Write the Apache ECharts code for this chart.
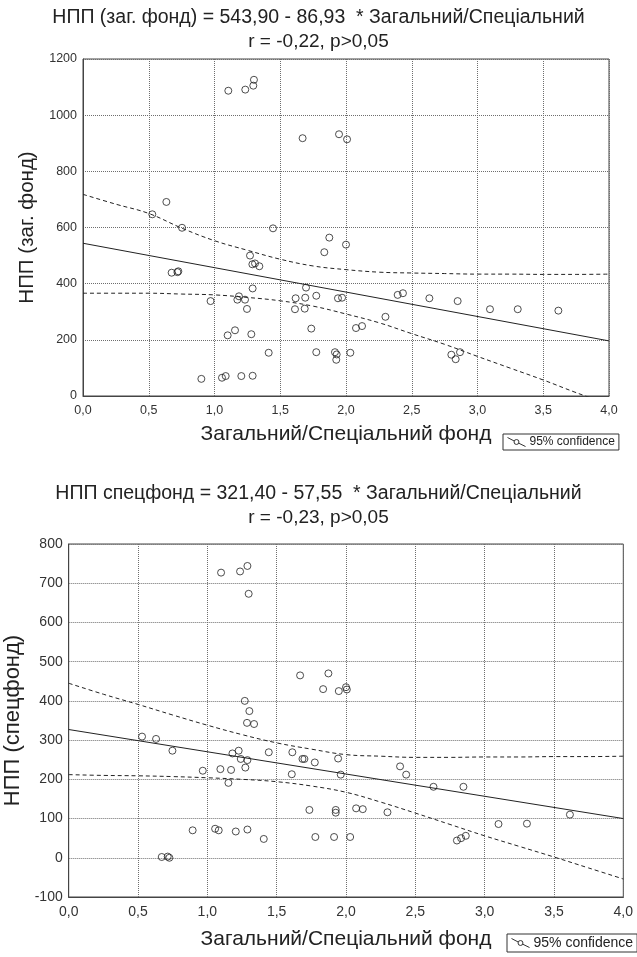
<!DOCTYPE html>
<html><head><meta charset="utf-8">
<script src="https://cdn.jsdelivr.net/npm/echarts@6/dist/echarts.min.js"></script>
<style>html,body{margin:0;padding:0;background:#fff}#c{width:637px;height:957px}</style>
</head><body><div id="c"></div>
<script>
const FONT = "'Liberation Sans', Arial, sans-serif";

// ---- top chart: НПП (заг. фонд) vs Загальний/Спеціальний
const xTop = [0.527,0.634,0.753,0.674,0.718,0.725,0.90,0.970,1.057,1.085,1.10,1.105,1.156,1.174,1.186,1.204,1.232,1.234,1.247,1.27,1.28,1.288,1.29,1.29,1.295,1.30,1.308,1.341,1.412,1.445,1.612,1.617,1.67,1.686,1.69,1.696,1.736,1.774,1.774,1.835,1.873,1.916,1.926,1.929,1.939,1.947,1.97,2.0,2.008,2.033,2.076,2.122,2.3,2.393,2.433,2.634,2.801,2.834,2.849,2.867,3.095,3.306,3.615];
const yTop = [647,691,599,439,441,444,61,338,65,71,216,1087,234,343,355,71,343,1091,310,500,220,469,383,72,1105,1126,472,462,154,597,309,348,918,311,350,386,240,357,156,512,564,156,129,148,348,932,350,539,914,154,242,249,282,360,366,348,147,131,338,156,309,309,304];
const fitXTop = [0, 4];
const fitYTop = [543.9, 196.2];
const bandX = [0,0.25,0.5,0.75,1,1.25,1.5,1.75,2,2.25,2.5,2.75,3,3.25,3.5,3.75,4];
const upperTop = [718,683,650,598,553,519,487,463,450,441,438,436,434,434,433,433,434];
const lowerTop = [366,366,366,363,360,351,339,320,292,261,222,184,141,99,57,12,-30];

// ---- bottom chart: НПП (спецфонд)
const xBot = [0.529,0.630,0.748,0.671,0.714,0.726,0.894,0.967,1.056,1.082,1.094,1.099,1.152,1.171,1.181,1.205,1.226,1.236,1.241,1.27,1.274,1.286,1.289,1.289,1.289,1.298,1.303,1.337,1.407,1.443,1.609,1.613,1.669,1.686,1.70,1.736,1.775,1.779,1.835,1.873,1.914,1.926,1.926,1.943,1.948,1.962,2.0,2.006,2.03,2.073,2.121,2.299,2.39,2.434,2.631,2.847,2.8,2.83,2.864,3.1,3.305,3.615];
const yBot = [309,303,273,2,3,0,70,222,74,70,226,727,191,224,266,67,273,730,252,400,230,344,249,72,744,673,374,341,48,269,213,269,465,252,252,122,243,53,430,470,53,122,115,253,425,212,435,429,53,126,124,116,233,212,181,181,44,50,56,86,87,110];
const fitXBot = [0, 4];
const fitYBot = [327, 100];
const upperBot = [445,417,391,364,338,314,293,277,263,259,256,256,257,257,258,258,259];
const lowerBot = [212,210,209,207,204,200,194,183,167,142,114,85,56,29,2,-26,-54];

const titleTexts = [
  'НПП (заг. фонд) = 543,90 - 86,93  * Загальний/Спеціальний',
  'r = -0,22, p>0,05',
  'НПП спецфонд = 321,40 - 57,55  * Загальний/Спеціальний',
  'r = -0,23, p>0,05'
];
const xName = 'Загальний/Спеціальний фонд';
const yNames = ['НПП (заг. фонд)', 'НПП (спецфонд)'];
const legendName = '95% confidence';

const zip = (a, b) => a.map((v, i) => [v, b[i]]);
const fmtX = v => v.toFixed(1).replace('.', ',');
const fmtY = v => String(v);
const INK = '#222';

function xAxisCfg(gi, fs, gap) {
  return {
    gridIndex: gi, type: 'value', min: 0, max: 4, interval: 0.5,
    axisLine: {show: true, onZero: false, lineStyle: {color: '#444', width: 1}},
    axisTick: {show: false},
    axisLabel: {formatter: fmtX, color: '#333', fontSize: fs, margin: 8, fontFamily: FONT},
    splitLine: {show: true, lineStyle: {color: '#6e6e6e', type: [1, 1], width: 1}},
    name: xName, nameLocation: 'middle', nameGap: gap,
    nameTextStyle: {fontSize: 21, color: INK, fontFamily: FONT}
  };
}
function yAxisCfg(gi, min, max, step, fs, name, nfs, gap) {
  return {
    gridIndex: gi, type: 'value', min: min, max: max, interval: step,
    axisLine: {show: true, onZero: false, lineStyle: {color: '#444', width: 1}},
    axisTick: {show: false},
    axisLabel: {formatter: fmtY, color: '#333', fontSize: fs, margin: 6, fontFamily: FONT},
    splitLine: {show: true, lineStyle: {color: '#6e6e6e', type: [1, 1], width: 1}},
    name: name, nameLocation: 'middle', nameGap: gap, nameRotate: 90,
    nameTextStyle: {fontSize: nfs, color: INK, fontFamily: FONT}
  };
}
function seriesFor(idx, xs, ys, fx, fy, up, lo) {
  return [
    {type: 'scatter', xAxisIndex: idx, yAxisIndex: idx, data: zip(xs, ys),
     symbol: 'circle', symbolSize: 7, z: 4, silent: true,
     itemStyle: {color: 'rgba(0,0,0,0)', borderColor: INK, borderWidth: 1}},
    {type: 'line', xAxisIndex: idx, yAxisIndex: idx, data: zip(fx, fy),
     showSymbol: false, silent: true, z: 3, lineStyle: {color: INK, width: 1}},
    {type: 'line', name: legendName, xAxisIndex: idx, yAxisIndex: idx, data: zip(bandX, up),
     showSymbol: false, smooth: 0.4, silent: true, z: 3, clip: true,
     itemStyle: {color: INK}, lineStyle: {color: INK, width: 1, type: [4, 3]}},
    {type: 'line', name: legendName, xAxisIndex: idx, yAxisIndex: idx, data: zip(bandX, lo),
     showSymbol: false, smooth: 0.4, silent: true, z: 3, clip: true,
     itemStyle: {color: INK}, lineStyle: {color: INK, width: 1, type: [4, 3]}}
  ];
}
function titleCfg(text, top, fs) {
  return {text: text, left: 'center', top: top, padding: 0,
    textStyle: {fontSize: fs, fontWeight: 'normal', color: INK, fontFamily: FONT}};
}
const ICON = 'path://M0,0L8,4.2M14,5.5A3,3,0,1,1,14,5.49M13.6,6.9L22,11';
function legendCfg(left, top, fs) {
  return {
    data: [legendName], left: left, top: top, orient: 'horizontal',
    icon: ICON, itemWidth: 18, itemHeight: 9, itemGap: 0, selectedMode: false,
    padding: [2, 4, 2, 4], borderColor: '#333', borderWidth: 1, borderRadius: 0,
    itemStyle: {color: 'rgba(0,0,0,0)', borderColor: '#333', borderWidth: 1, borderType: 'solid'},
    lineStyle: {type: 'solid', color: '#333', width: 1},
    textStyle: {fontSize: fs, color: INK, fontFamily: FONT, padding: [0, 0, 0, -1]}
  };
}

const chart = echarts.init(document.getElementById('c'), null, {renderer: 'canvas'});
chart.setOption({
  animation: false,
  backgroundColor: '#fff',
  title: [
    titleCfg(titleTexts[0], 8, 19.5),
    titleCfg(titleTexts[1], 32, 19),
    titleCfg(titleTexts[2], 484, 19.5),
    titleCfg(titleTexts[3], 508, 19)
  ],
  grid: [
    {left: 83, top: 59, width: 526, height: 337, show: true, borderColor: '#444', borderWidth: 1,
     backgroundColor: 'rgba(0,0,0,0)', containLabel: false, outerBoundsMode: 'none'},
    {left: 68.7, top: 544, width: 554.6, height: 353, show: true, borderColor: '#444', borderWidth: 1,
     backgroundColor: 'rgba(0,0,0,0)', containLabel: false, outerBoundsMode: 'none'}
  ],
  xAxis: [xAxisCfg(0, 12.5, 28), xAxisCfg(1, 14, 32)],
  yAxis: [
    yAxisCfg(0, 0, 1200, 200, 12.5, yNames[0], 20.5, 45),
    yAxisCfg(1, -100, 800, 100, 14, yNames[1], 22, 43)
  ],
  legend: [legendCfg(503, 434, 12), legendCfg(507, 934, 14)],
  series: [].concat(
    seriesFor(0, xTop, yTop, fitXTop, fitYTop, upperTop, lowerTop),
    seriesFor(1, xBot, yBot, fitXBot, fitYBot, upperBot, lowerBot)
  )
});
</script></body></html>
